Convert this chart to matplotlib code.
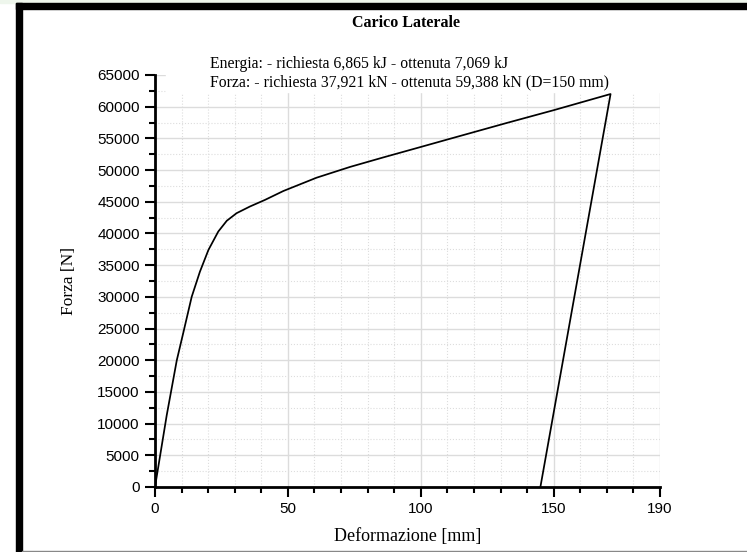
import matplotlib
matplotlib.use('Agg')
import matplotlib.pyplot as plt
from matplotlib.patches import Rectangle
from matplotlib.ticker import MultipleLocator

# curve: loading branch then unloading
defo = [0, 4.4, 8.2, 10.6, 13.8, 16.9, 20.1, 23.8, 27.0, 30.7, 35.7, 41.4,
        48.3, 60.8, 73.4, 85.9, 98.4, 111.0, 132.3, 150.0, 171.4, 145.0]
forza = [0, 11300, 20000, 24250, 30000, 33970, 37400, 40300, 42000, 43200, 44250, 45300,
         46700, 48800, 50500, 52000, 53460, 54940, 57430, 59450, 62000, 0]

x_ticks = [0, 50, 100, 150, 190]
info = ["Energia: - richiesta 6,865 kJ - ottenuta 7,069 kJ",
        "Forza: - richiesta 37,921 kN - ottenuta 59,388 kN (D=150 mm)"]

W, H = 747, 552
fig = plt.figure(figsize=(W / 100, H / 100), dpi=100)

# window frame around the chart
fig.patches.append(Rectangle((0, 1 - 3 / H), 1, 3 / H, transform=fig.transFigure,
                             color='#eef6ec', zorder=0))
fig.patches.append(Rectangle((16 / W, 0), 6 / W, 1 - 3 / H, transform=fig.transFigure,
                             color='black', zorder=1))
fig.patches.append(Rectangle((16 / W, 1 - 9 / H), 1, 6 / H, transform=fig.transFigure,
                             color='black', zorder=1))
fig.patches.append(Rectangle((22 / W, 0), 1, 1.5 / H, transform=fig.transFigure,
                             color='#888888', zorder=1))

ax = fig.add_axes([155 / W, 65 / H, 505 / W, 412 / H])
ax.plot(defo, forza, color='black', lw=1.25, zorder=3)

ax.set_xlim(0, 190)
ax.set_ylim(0, 65000)
ax.set_xticks(x_ticks)
ax.xaxis.set_minor_locator(MultipleLocator(10))
ax.yaxis.set_major_locator(MultipleLocator(5000))
ax.yaxis.set_minor_locator(MultipleLocator(2500))

ax.grid(which='major', color='#dcdcdc', lw=1.0)
ax.grid(which='minor', color='#dddddd', lw=0.8, ls=':')
ax.set_axisbelow(True)
# blank band under the info text (grid stops there)
ax.add_patch(Rectangle((4, 62300), 190, 3000, color='white', zorder=1.5,
                       clip_on=False))

for s in ['top', 'right']:
    ax.spines[s].set_visible(False)
for s in ['left', 'bottom']:
    ax.spines[s].set_linewidth(2)
    ax.spines[s].set_zorder(4)

ax.tick_params(which='major', direction='out', length=7, width=1.5,
               labelsize=11, pad=4)
ax.tick_params(which='minor', direction='out', length=4, width=1.5)
for lab in ax.get_xticklabels() + ax.get_yticklabels():
    lab.set_family('Liberation Sans')

ax.set_xlabel('Deformazione [mm]', family='Liberation Serif', fontsize=13)
ax.set_ylabel('Forza [N]', family='Liberation Serif', fontsize=12.5)
ax.xaxis.set_label_coords(0.5, -0.0995)
ax.yaxis.set_label_coords(-0.1545, 0.5)

fig.text(406 / W, 1 - 23 / H, 'Carico Laterale', ha='center', va='center',
         family='Liberation Serif', fontweight='bold', fontsize=11.5)

fig.text(210 / W, 1 - 56 / H, info[0] + '\n' + info[1], ha='left', va='top',
         family='Liberation Serif', fontsize=11.3, linespacing=1.2)

fig.savefig('out.png', dpi=100)
